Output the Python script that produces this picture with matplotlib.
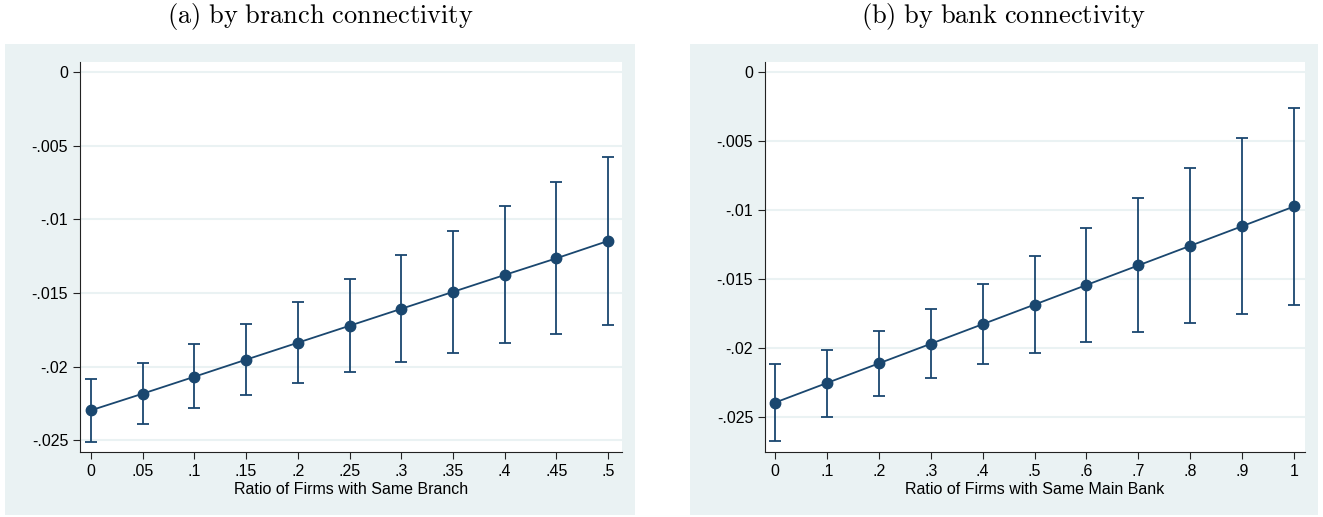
import matplotlib.pyplot as plt
from matplotlib.patches import Rectangle

# panel (a): by branch connectivity
x_branch = [0, 0.05, 0.1, 0.15, 0.2, 0.25, 0.3, 0.35, 0.4, 0.45, 0.5]
y_branch = [-0.02297, -0.02184, -0.02069, -0.01953, -0.01838, -0.01723,
            -0.01608, -0.01493, -0.01378, -0.01265, -0.01147]
hi_branch = [-0.02084, -0.01974, -0.01850, -0.01712, -0.01563, -0.01405,
             -0.01244, -0.01079, -0.00910, -0.00745, -0.00578]
lo_branch = [-0.02509, -0.02389, -0.02283, -0.02195, -0.02114, -0.02039,
             -0.01972, -0.01906, -0.01841, -0.01777, -0.01716]
xt_branch = [0, 0.05, 0.1, 0.15, 0.2, 0.25, 0.3, 0.35, 0.4, 0.45, 0.5]
xl_branch = ['0', '.05', '.1', '.15', '.2', '.25', '.3', '.35', '.4', '.45', '.5']

# panel (b): by bank connectivity
x_bank = [0, 0.1, 0.2, 0.3, 0.4, 0.5, 0.6, 0.7, 0.8, 0.9, 1.0]
y_bank = [-0.02396, -0.02254, -0.02112, -0.01970, -0.01828, -0.01686,
          -0.01544, -0.01402, -0.01260, -0.01118, -0.00975]
hi_bank = [-0.02117, -0.02013, -0.01879, -0.01717, -0.01537, -0.01337,
           -0.01130, -0.00915, -0.00696, -0.00479, -0.00260]
lo_bank = [-0.02676, -0.02500, -0.02346, -0.02221, -0.02119, -0.02035,
           -0.01958, -0.01888, -0.01821, -0.01753, -0.01691]
xt_bank = [0, 0.1, 0.2, 0.3, 0.4, 0.5, 0.6, 0.7, 0.8, 0.9, 1.0]
xl_bank = ['0', '.1', '.2', '.3', '.4', '.5', '.6', '.7', '.8', '.9', '1']

yticks = [0, -0.005, -0.01, -0.015, -0.02, -0.025]
ylabels = ['0', '-.005', '-.01', '-.015', '-.02', '-.025']

navy = '#1a476f'
bg = '#eaf2f3'

plt.rcParams['font.family'] = ['Liberation Sans', 'DejaVu Sans']
plt.rcParams['mathtext.fontset'] = 'cm'

W, H = 1323, 517
fig = plt.figure(figsize=(W / 100, H / 100), dpi=100)


def px(x0, y0, x1, y1):
    # pixel box -> figure fraction [left, bottom, width, height]
    return [x0 / W, 1 - y1 / H, (x1 - x0) / W, (y1 - y0) / H]


panels = [
    (x_branch, y_branch, lo_branch, hi_branch, xt_branch, xl_branch,
     'Ratio of Firms with Same Branch', r'$\mathrm{(a)\ by\ branch\ connectivity}$',
     (5, 635), (80, 622), (-0.0258, 0.00068), (-0.0106, 0.5135)),
    (x_bank, y_bank, lo_bank, hi_bank, xt_bank, xl_bank,
     'Ratio of Firms with Same Main Bank', r'$\mathrm{(b)\ by\ bank\ connectivity}$',
     (690, 1318), (765, 1305), (-0.02754, 0.00072), (-0.0193, 1.0212)),
]

for xs, ys, lo, hi, xt, xl, xlab, title, bgx, axx, ylim, xlim in panels:
    fig.patches.append(Rectangle((bgx[0] / W, 1 - 515 / H), (bgx[1] - bgx[0]) / W,
                                 (515 - 44) / H, transform=fig.transFigure,
                                 facecolor=bg, edgecolor='none', zorder=-10))
    fig.text((bgx[0] + bgx[1]) / 2 / W, 1 - 17 / H, title, ha='center', va='center',
             fontsize=19)
    ax = fig.add_axes(px(axx[0], 62, axx[1], 452))
    ax.set_facecolor('white')
    err_lo = [y - l for y, l in zip(ys, lo)]
    err_hi = [h - y for y, h in zip(ys, hi)]
    ax.errorbar(xs, ys, yerr=[err_lo, err_hi], fmt='none', ecolor=navy,
                elinewidth=1.3, capsize=4, capthick=1.3, zorder=3)
    ax.plot(xs, ys, color=navy, lw=1.3, marker='o', markersize=7.5, zorder=4)
    ax.set_ylim(*ylim)
    ax.set_xlim(*xlim)
    ax.set_yticks(yticks)
    ax.set_yticklabels(ylabels)
    ax.set_xticks(xt)
    ax.set_xticklabels(xl)
    ax.yaxis.grid(True, color=bg, lw=1.5)
    ax.set_axisbelow(True)
    ax.spines['top'].set_visible(False)
    ax.spines['right'].set_visible(False)
    ax.spines['left'].set_color('#222222')
    ax.spines['bottom'].set_color('#222222')
    ax.tick_params(axis='both', labelsize=11.5, length=5, color='#222222')
    ax.set_xlabel(xlab, fontsize=11.5, labelpad=2)

plt.savefig('out.png', dpi=100)
